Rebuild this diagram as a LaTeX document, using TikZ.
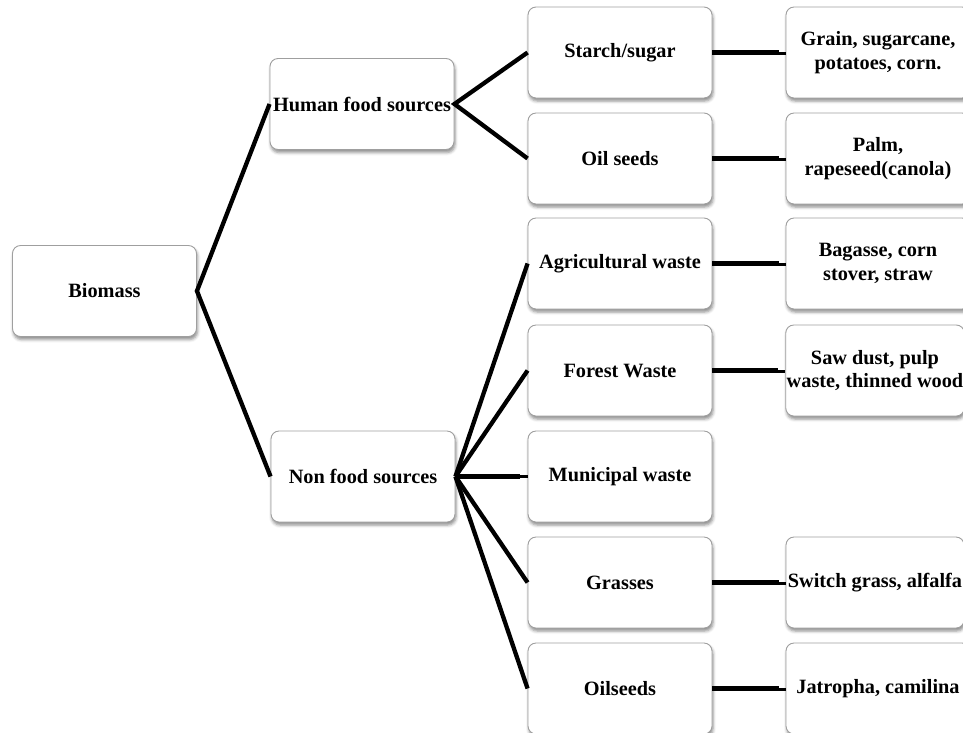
\documentclass[tikz,border=0pt]{standalone}
\usepackage{fontspec}
\setmainfont{Liberation Serif}
\usetikzlibrary{shadows.blur}

\tikzset{
  box/.style={draw=gray!75, line width=0.9pt, fill=white, rounded corners=8pt,
    minimum width=184pt, minimum height=91pt, inner sep=1pt, align=center,
    font=\bfseries\fontsize{20.3}{23.5}\selectfont,
    blur shadow={shadow xshift=1pt, shadow yshift=-3pt, shadow blur radius=3pt,
      shadow opacity=45}},
  narrowbox/.style={box, minimum width=178pt},
  link/.style={line width=4.3pt, black},
  tail/.style={line width=2.6pt, black},
}

\begin{document}
\begin{tikzpicture}[x=1pt, y=-1pt]
  \clip (0,0) rectangle (963,732);

  % root and the two main groups
  \node[box] (biomass) at (104.5,291) {Biomass};
  \node[box] (human)   at (362,104)   {Human food sources};
  \node[box] (nonfood) at (363,476.5) {Non food sources};

  % source types
  \node[box] (starch) at (620,52.5)  {Starch/sugar};
  \node[box] (oil)    at (620,158.5) {Oil seeds};
  \node[box] (agri)   at (620,263.5) {Agricultural waste};
  \node[box] (forest) at (620,370.5) {Forest Waste};
  \node[box] (muni)   at (620,476.5) {Municipal waste};
  \node[box] (grass)  at (620,582.5) {Grasses};
  \node[box] (oils)   at (620,688.5) {Oilseeds};

  % examples
  \node[box] (grain)    at (878,52.5)  {Grain, sugarcane,\\potatoes, corn.};
  \node[box] (palm)     at (878,158.5) {Palm,\\rapeseed(canola)};
  \node[box] (bagasse)  at (878,263.5) {Bagasse, corn\\stover, straw};
  \node[narrowbox] (sawdust) at (875,370.5) {Saw dust, pulp\\waste, thinned wood};
  \node[narrowbox] (switch)  at (875,582.5) {Switch grass, alfalfa};
  \node[box] (jatropha) at (878,688.5) {Jatropha, camilina};

  % tree connectors
  \draw[link, line join=miter] (human.west) -- (biomass.east) -- (nonfood.west);
  \draw[link, line join=miter] (starch.west) -- (human.east) -- (oil.west);
  \foreach \t in {agri, forest, grass, oils}
    \draw[link] (nonfood.east) -- (\t.west);
  \draw[link] (nonfood.east) -- ([xshift=-8pt]muni.west);
  \draw[tail] ([xshift=-9pt]muni.west) -- (muni.west);

  % horizontal links to the examples
  \foreach \a/\b in {starch/grain, oil/palm, agri/bagasse, forest/sawdust,
                     grass/switch, oils/jatropha}{
    \draw[link] (\a.east) -- ([xshift=-7pt]\b.west);
    \draw[tail] ([xshift=-8pt,yshift=-1pt]\b.west) -- ([yshift=-1pt]\b.west);
  }
\end{tikzpicture}
\end{document}
